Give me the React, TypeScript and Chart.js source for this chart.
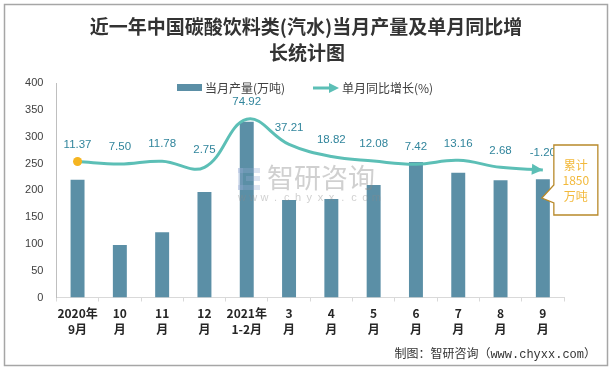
import React, { useEffect, useRef } from 'react';
import { Chart, registerables } from 'chart.js';

Chart.register(...registerables);

// ---- data ----
const categories: string[][] = [
  ['2020年', '9月'], ['10', '月'], ['11', '月'], ['12', '月'],
  ['2021年', '1-2月'], ['3', '月'], ['4', '月'], ['5', '月'],
  ['6', '月'], ['7', '月'], ['8', '月'], ['9', '月'],
];
const production: number[] = [220, 98, 122, 197, 328, 182, 184, 210, 253, 233, 219, 221];
const growth: number[] = [11.37, 7.5, 11.78, 2.75, 74.92, 37.21, 18.82, 12.08, 7.42, 13.16, 2.68, -1.2];
const growthLabels: string[] = ['11.37', '7.50', '11.78', '2.75', '74.92', '37.21', '18.82', '12.08', '7.42', '13.16', '2.68', '-1.20'];
const yMin = 0;
const yMax = 400;
const yStep = 50;
const titleLines: string[] = ['近一年中国碳酸饮料类(汽水)当月产量及单月同比增', '长统计图'];
const barLegend = '当月产量(万吨)';
const lineLegend = '单月同比增长(%)';
const calloutLines: string[] = ['累计', '1850', '万吨'];
const sourceText = '制图：智研咨询（www.chyxx.com）';
const watermarkText = '智研咨询';
const watermarkUrl = 'www.chyxx.com';

// ---- styles ----
const BAR_COLOR = '#5B8FA6';
const LINE_COLOR = '#5CBFB6';
const LABEL_COLOR = '#31859C';
const POINT_COLOR = '#F5B521';
const CJK = "'Noto Sans CJK SC', 'Noto Sans', sans-serif";

function drawArrow(ctx: CanvasRenderingContext2D, x: number, y: number, dx: number, dy: number, len: number, half: number, color: string) {
  const d = Math.hypot(dx, dy) || 1;
  const ux = dx / d, uy = dy / d;
  const bx = x - ux * len, by = y - uy * len;
  ctx.beginPath();
  ctx.moveTo(x, y);
  ctx.lineTo(bx - uy * half, by + ux * half);
  ctx.lineTo(bx + uy * half, by - ux * half);
  ctx.closePath();
  ctx.fillStyle = color;
  ctx.fill();
}

const decorPlugin = {
  id: 'decor',
  beforeDraw(chart: any) {
    const ctx: CanvasRenderingContext2D = chart.ctx;
    ctx.save();
    ctx.fillStyle = '#ffffff';
    ctx.fillRect(0, 0, chart.width, chart.height);
    ctx.strokeStyle = '#a6a6a6';
    ctx.lineWidth = 1.5;
    ctx.strokeRect(4.5, 4.5, 603, 361);
    ctx.restore();
  },
  afterDatasetsDraw(chart: any) {
    const ctx: CanvasRenderingContext2D = chart.ctx;
    ctx.save();
    // watermark
    ctx.globalAlpha = 0.4;
    ctx.fillStyle = 'rgba(150,170,210,0.8)';
    ctx.fillRect(238, 168, 22, 5);
    ctx.fillRect(238, 168, 5, 22);
    ctx.fillRect(238, 185, 22, 5);
    ctx.fillRect(246, 176, 14, 5);
    ctx.fillStyle = '#8a8a8a';
    ctx.font = `27px ${CJK}`;
    ctx.textAlign = 'left';
    ctx.textBaseline = 'middle';
    ctx.fillText(watermarkText, 267, 178);
    ctx.font = `11px 'Liberation Sans', sans-serif`;
    ctx.textAlign = 'center';
    const chars = watermarkUrl.split('');
    chars.forEach((c, i) => {
      ctx.fillText(c, 242 + i * 11.2, 198);
    });
    ctx.globalAlpha = 1;

    // line data labels & arrow
    const meta = chart.getDatasetMeta(1);
    const pts = meta.data;
    const last = pts[pts.length - 1];
    if (last) {
      const dx = last.x - (last.cp1x ?? last.x - 1);
      const dy = last.y - (last.cp1y ?? last.y);
      drawArrow(ctx, last.x, last.y, dx, dy, 11, 5.5, LINE_COLOR);
    }
    ctx.fillStyle = LABEL_COLOR;
    ctx.font = `11.5px 'Liberation Sans', sans-serif`;
    ctx.textAlign = 'center';
    ctx.textBaseline = 'middle';
    pts.forEach((p: any, i: number) => {
      ctx.fillText(growthLabels[i], p.x, p.y - 17);
    });
    ctx.restore();
  },
  afterDraw(chart: any) {
    const ctx: CanvasRenderingContext2D = chart.ctx;
    ctx.save();
    // title
    ctx.fillStyle = '#333333';
    ctx.font = `bold 19px ${CJK}`;
    ctx.textAlign = 'center';
    ctx.textBaseline = 'middle';
    ctx.fillText(titleLines[0], 306, 27);
    ctx.fillText(titleLines[1], 307, 53);

    // legend
    ctx.fillStyle = BAR_COLOR;
    ctx.fillRect(177, 84, 25, 7);
    ctx.fillStyle = '#404040';
    ctx.font = `12px ${CJK}`;
    ctx.textAlign = 'left';
    ctx.fillText(barLegend, 205, 88.5);
    ctx.strokeStyle = LINE_COLOR;
    ctx.lineWidth = 3;
    ctx.beginPath();
    ctx.moveTo(313, 88);
    ctx.lineTo(332, 88);
    ctx.stroke();
    drawArrow(ctx, 339, 88, 1, 0, 10, 5, LINE_COLOR);
    ctx.fillStyle = '#404040';
    ctx.fillText(lineLegend, 342, 88.5);

    // callout
    const barMeta = chart.getDatasetMeta(0);
    const lastBar = barMeta.data[barMeta.data.length - 1];
    const tipX = lastBar ? lastBar.x - 1 : 543;
    const bx0 = tipX + 12, bx1 = tipX + 56, by0 = 145, by1 = 215;
    ctx.beginPath();
    ctx.moveTo(bx0, by0);
    ctx.lineTo(bx1, by0);
    ctx.lineTo(bx1, by1);
    ctx.lineTo(bx0, by1);
    ctx.lineTo(bx0, 203);
    ctx.lineTo(tipX, 198);
    ctx.lineTo(bx0, 185);
    ctx.closePath();
    ctx.fillStyle = '#ffffff';
    ctx.fill();
    ctx.strokeStyle = '#B8892A';
    ctx.lineWidth = 1.3;
    ctx.stroke();
    ctx.fillStyle = '#F2B93B';
    ctx.font = `12px ${CJK}`;
    ctx.textAlign = 'center';
    calloutLines.forEach((t, i) => {
      ctx.fillText(t, (bx0 + bx1) / 2, 165 + i * 15.5);
    });

    // source
    ctx.fillStyle = '#333333';
    ctx.font = `12px 'Liberation Mono', 'Noto Sans CJK SC', monospace`;
    ctx.textAlign = 'right';
    ctx.fillText(sourceText, 596, 355);
    ctx.restore();
  },
};

export default function App() {
  const ref = useRef<HTMLCanvasElement | null>(null);
  useEffect(() => {
    document.body.style.margin = '0';
    const canvas = ref.current;
    if (!canvas) return;
    const chart = new Chart(canvas, {
      type: 'bar',
      data: {
        labels: categories,
        datasets: [
          {
            type: 'bar',
            label: barLegend,
            data: production,
            backgroundColor: BAR_COLOR,
            categoryPercentage: 1,
            barPercentage: 0.33,
            yAxisID: 'y',
            order: 1,
          },
          {
            type: 'line',
            label: lineLegend,
            data: growth,
            borderColor: LINE_COLOR,
            borderWidth: 3,
            tension: 0.4,
            pointRadius: growth.map((_, i) => (i === 0 ? 4.5 : 0)),
            pointBackgroundColor: POINT_COLOR,
            pointBorderWidth: 0,
            yAxisID: 'y1',
            order: 0,
          } as any,
        ],
      },
      options: {
        responsive: false,
        animation: false,
        devicePixelRatio: 1,
        layout: { padding: { left: 10, right: 50, top: 83.3, bottom: 0 } },
        plugins: {
          legend: { display: false },
          title: { display: false },
          tooltip: { enabled: false },
        },
        scales: {
          x: {
            grid: {
              display: true,
              drawOnChartArea: false,
              drawTicks: true,
              tickLength: 4,
              color: '#d9d9d9',
              offset: true,
            },
            border: { display: true, color: '#d9d9d9', width: 1 },
            ticks: {
              color: '#262626',
              padding: 4,
              maxRotation: 0,
              autoSkip: false,
              font: { family: CJK, size: 12, weight: 'bold', lineHeight: 1.35 },
            },
            afterFit: (s: any) => { s.height = 73.5; },
          },
          y: {
            min: yMin,
            max: yMax,
            ticks: {
              stepSize: yStep,
              color: '#404040',
              padding: 13,
              font: { family: "'Liberation Sans', sans-serif", size: 11 },
            },
            grid: { display: false, drawTicks: false },
            border: { display: true, color: '#bfbfbf', width: 1 },
            afterFit: (s: any) => { s.width = 46.4; },
          },
          y1: {
            display: false,
            min: -193,
            max: 129,
          },
        },
      } as any,
      plugins: [decorPlugin],
    });
    return () => chart.destroy();
  }, []);
  return (
    <div style={{ position: 'absolute', left: 0, top: 0, width: 614, height: 371 }}>
      <canvas ref={ref} width={614} height={371} style={{ width: 614, height: 371, display: 'block' }} />
    </div>
  );
}
